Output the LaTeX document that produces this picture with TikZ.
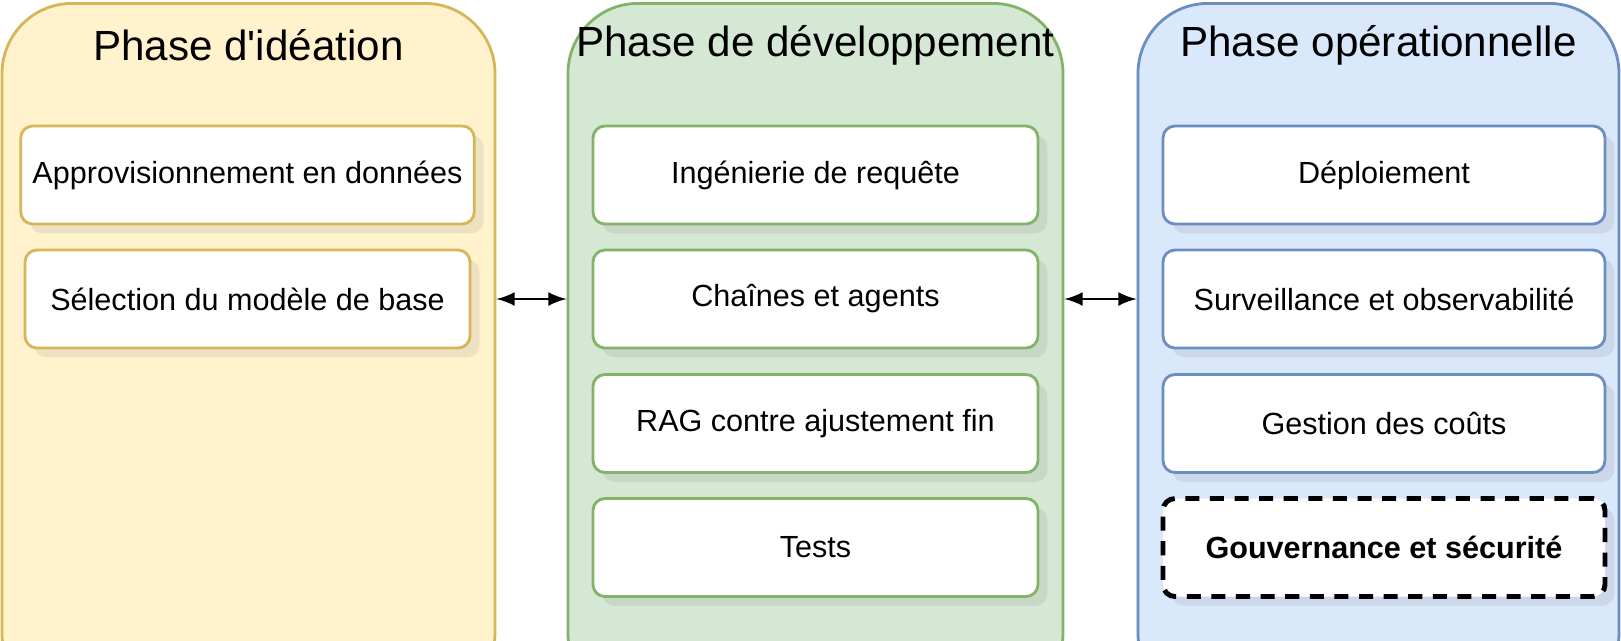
\documentclass[tikz,border=0pt]{standalone}
\usepackage{fontspec}
\setmainfont{Liberation Sans}
\usetikzlibrary{shadows}
\definecolor{yfill}{HTML}{FFF2CC}\definecolor{ydraw}{HTML}{D6B656}
\definecolor{gfill}{HTML}{D5E8D4}\definecolor{gdraw}{HTML}{82B366}
\definecolor{bfill}{HTML}{DAE8FC}\definecolor{bdraw}{HTML}{6C8EBF}
\begin{document}
\begin{tikzpicture}[
    panel/.style={draw=#1, line width=0.8pt, rounded corners=0.7cm, minimum height=7cm, anchor=north},
    step/.style={draw=#1, fill=white, line width=0.8pt, rounded corners=0.12cm,
        minimum width=4.45cm, minimum height=0.98cm, drop shadow={opacity=0.15},
        font=\fontsize{8.7}{10}\selectfont},
    title/.style={font=\fontsize{12}{14}\selectfont},
    link/.style={latex-latex, line width=0.8pt}]
    \useasboundingbox (0,0) rectangle (16.21,-6.40);
    \clip (0,0) rectangle (16.21,-6.40);

    \node[panel=ydraw, fill=yfill, minimum width=4.93cm] (ideation) at (2.485,-0.02) {};
    \node[panel=gdraw, fill=gfill, minimum width=4.95cm] (dev) at (8.155,-0.02) {};
    \node[panel=bdraw, fill=bfill, minimum width=4.81cm] (ops) at (13.785,-0.02) {};

    \node[title] at (2.485,-0.45) {Phase d\textquotesingle idéation};
    \node[title] at (8.155,-0.45) {Phase de développement};
    \node[title] at (13.785,-0.45) {Phase opérationnelle};

    \node[step=ydraw] (appro) at (2.475,-1.75) {Approvisionnement en données};
    \node[step=ydraw] (sel) at (2.475,-2.99) {Sélection du modèle de base};

    \node[step=gdraw] (req) at (8.155,-1.75) {Ingénierie de requête};
    \node[step=gdraw] (chaines) at (8.155,-2.99) {Chaînes et agents};
    \node[step=gdraw] (rag) at (8.155,-4.235) {RAG contre ajustement fin};
    \node[step=gdraw] (tests) at (8.155,-5.475) {Tests};

    \node[step=bdraw, minimum width=4.42cm] (deploi) at (13.84,-1.75) {Déploiement};
    \node[step=bdraw, minimum width=4.42cm] (surv) at (13.84,-2.99) {Surveillance et observabilité};
    \node[step=bdraw, minimum width=4.42cm] (couts) at (13.84,-4.235) {Gestion des coûts};
    \node[step=bdraw, draw=black, dash pattern=on 4pt off 3pt, line width=1.4pt,
        minimum width=4.42cm, font=\fontsize{8.7}{10}\selectfont\bfseries] (gouv) at (13.84,-5.475) {Gouvernance et sécurité};

    \draw[link] (sel -| ideation.east) -- (sel -| dev.west);
    \draw[link] (chaines -| dev.east) -- (chaines -| ops.west);
\end{tikzpicture}
\end{document}
